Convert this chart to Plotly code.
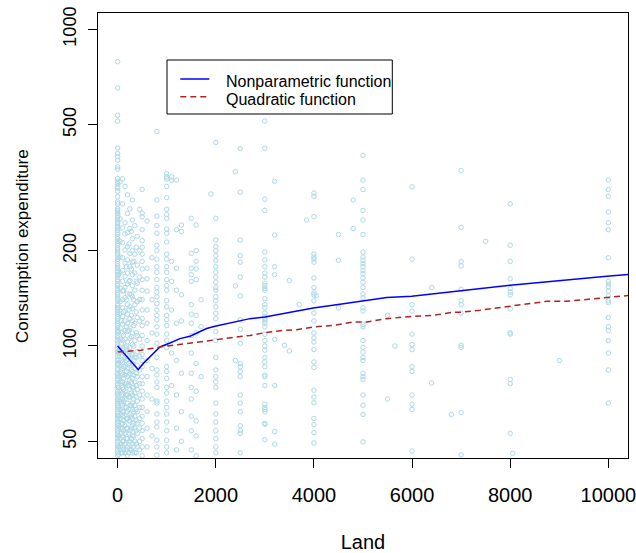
import plotly.graph_objects as go

# ---- Scatter data: consumption expenditure observed at each land level ----
land_levels = [0, 20, 50, 80, 100, 120, 150, 180, 200, 230, 250, 280, 300, 330, 350,
               380, 400, 450, 500, 600, 700, 800,
               1000, 1100, 1200, 1300, 1500, 1600, 1700, 1900, 2000, 2400, 2500,
               3000, 3200, 3400, 3500, 3700, 3850, 4000, 4050, 4500, 4800, 5000,
               5500, 5650, 6000, 6400, 6800, 7000, 7500, 8000, 8050, 9000, 10000]

cons_0 = [790, 653, 535, 513, 422, 405, 396, 386, 368, 362, 338, 331, 326, 319, 315,
          308, 296, 285, 281, 271, 268, 265, 262, 258, 254, 250, 246, 243, 239, 236,
          232, 228, 225, 221, 218, 214, 211, 208, 204, 201, 198, 195, 191, 188, 185,
          182, 179, 176, 173, 171, 168, 165, 162, 160, 157, 155, 152, 150, 147, 145,
          143, 141, 139, 136, 134, 132, 130, 128, 126, 124, 122, 120, 118, 116, 114,
          112, 110, 108, 106, 104, 102, 100, 98, 96, 95, 93, 91, 90, 88, 87, 85, 84,
          82, 81, 79, 78, 76, 75, 74, 72, 71, 70, 68, 67, 66, 65, 64, 63, 62, 61, 60,
          59, 58, 57, 56, 55, 54, 53, 52, 51, 50, 49, 48, 47, 46, 45]
cons_20 = [168, 132, 111, 95, 88, 80, 74, 69, 64, 60, 56, 52, 48, 45.5]
cons_50 = [330, 252, 214, 191, 171, 152, 138, 126, 114, 105, 97, 89, 83, 77, 72, 67,
           63, 59, 55, 51, 48]
cons_80 = [120, 102, 90, 82, 75, 70, 66, 61, 57, 53, 49, 46]
cons_100 = [337, 281, 236, 212, 190, 173, 160, 149, 140, 132, 124, 117, 110, 104, 98,
            93, 89, 85, 81, 77, 74, 71, 68, 65, 62, 60, 57, 55, 52, 50, 48, 46]
cons_120 = [150, 128, 108, 95, 86, 79, 73, 67, 62, 58, 54, 50, 47]
cons_150 = [319, 245, 226, 201, 183, 166, 153, 142, 129, 120, 112, 105, 99, 92, 86,
            81, 76, 72, 68, 64, 60, 56, 53, 49, 46]
cons_180 = [178, 140, 115, 100, 90, 83, 76, 70, 64, 59, 55, 51, 47]
cons_200 = [300, 262, 228, 206, 187, 170, 157, 146, 135, 126, 118, 111, 103, 97, 91,
            85, 80, 75, 70, 66, 62, 59, 55, 51, 48, 45]
cons_230 = [210, 160, 130, 112, 96, 88, 81, 75, 69, 63, 58, 53, 49, 46]
cons_250 = [271, 235, 196, 178, 161, 146, 133, 122, 114, 106, 99, 93, 87, 82, 78, 73,
            69, 65, 61, 58, 54, 50, 47]
cons_280 = [230, 175, 145, 125, 107, 94, 84, 77, 71, 65, 60, 55, 51, 47]
cons_300 = [289, 250, 218, 200, 184, 168, 155, 143, 131, 120, 110, 101, 94, 88, 83,
            79, 74, 70, 66, 63, 59, 56, 52, 49, 46]
cons_330 = [185, 140, 116, 100, 90, 81, 74, 68, 62, 57, 52, 48]
cons_350 = [240, 195, 170, 150, 135, 118, 104, 92, 85, 77, 71, 65, 60, 55, 50, 46]
cons_380 = [205, 160, 128, 110, 92, 82, 75, 69, 63, 58, 54, 49, 46]
cons_400 = [222, 180, 158, 138, 123, 108, 96, 87, 80, 73, 67, 62, 57, 53, 48]
cons_450 = [270, 200, 165, 140, 120, 105, 93, 84, 76, 70, 64, 59, 55, 50, 47]
cons_500 = [312, 263, 256, 233, 215, 205, 195, 185, 175, 162, 150, 140, 130, 122, 116,
            108, 100, 94, 90, 86, 80, 76, 72, 68, 64, 60, 57, 54, 51, 48, 45]
cons_600 = [248, 176, 163, 149, 130, 118, 104, 90, 80, 70, 62, 55, 48]
cons_700 = [190, 140, 110, 85, 68, 52]
cons_800 = [476, 289, 257, 240, 227, 208, 200, 188, 178, 171, 162, 153, 148, 143, 136,
            130, 125, 121, 115, 109, 102, 92, 84, 81, 77, 74, 67, 66, 61, 57.5, 55.5,
            50.4, 48, 45.2]
cons_1000 = [350, 342, 337, 319, 294, 270, 260, 253, 234, 227, 213, 195, 188, 178, 171,
             162, 155, 150, 139, 133, 125, 121, 116, 109, 104, 99, 86, 83, 79, 74, 71,
             67, 64, 61, 57.5, 54, 50.4, 48, 46]
cons_1100 = [342, 334, 185, 160, 130, 95, 75]
cons_1200 = [334, 233, 176, 150, 118, 90, 70, 55, 47]
cons_1300 = [241, 230, 145, 120, 82, 62, 50]
cons_1500 = [253, 196, 176, 168, 160, 135, 126, 118, 108, 95, 82, 74, 68, 60, 54, 47]
cons_1600 = [241, 200, 185, 175, 162, 125, 110, 88, 72, 58, 52, 45]
cons_1700 = [140, 115, 80]
cons_1900 = [302]
cons_2000 = [439, 253, 216, 206, 200, 193, 186, 178, 171, 165, 159, 153, 150, 143, 139,
             133, 127, 122, 111, 104, 92, 84, 80, 77, 74, 66, 61, 57.5, 54, 51, 48, 46]
cons_2400 = [355, 155, 90]
cons_2500 = [420, 306, 216, 193, 184, 165, 144, 121, 113, 102, 88, 86, 83, 80, 70, 66,
             62, 56, 54, 53, 46]
cons_3000 = [513, 421, 291, 268, 198, 187, 178, 170, 165, 158, 155, 152, 150, 141, 135,
             132, 127, 124, 122, 120, 118, 115, 109, 104, 100, 97, 92, 89, 86, 81, 80,
             75, 65.5, 64, 63, 62, 57, 56.6, 50.6]
cons_3200 = [331, 224, 178, 168, 105, 75, 53.7, 49]
cons_3400 = [100.5]
cons_3500 = [161, 96.4]
cons_3700 = [135]
cons_3850 = [250]
cons_4000 = [304, 297, 256, 195, 191, 188, 184, 164, 153, 147, 145, 139, 127, 120, 110,
             106, 103, 97.4, 89, 85.6, 72.5, 69, 66.2, 59, 56.5, 53.3, 49.4]
cons_4050 = [144]
cons_4500 = [225, 186.5, 132]
cons_4800 = [289, 235]
cons_5000 = [400, 334, 312, 268, 250, 225, 198, 191, 186.5, 182, 178, 173, 169, 164,
             159, 153, 146, 142, 132, 129, 117, 115, 104, 99, 95.7, 92, 90, 82, 80,
             78.4, 70, 65, 60.8, 49.8]
cons_5500 = [125, 68]
cons_5650 = [100]
cons_6000 = [318, 188, 135, 129, 109, 101, 97.4, 86, 83, 70, 65.5, 63, 46.6]
cons_6400 = [153, 76.4]
cons_6800 = [60.8]
cons_7000 = [358, 237, 185, 179, 151, 139, 135, 127, 100.5, 99, 61.6, 45.3]
cons_7500 = [214]
cons_8000 = [281, 208, 185, 163, 152, 148, 145, 131, 110, 109, 78.4, 76, 53]
cons_8050 = [45.8]
cons_9000 = [90]
cons_10000 = [334, 312, 297, 265, 245, 233, 190, 160, 157, 154, 149, 144, 139, 137, 123,
              115, 112, 104, 95, 84, 66]

cons_columns = [cons_0, cons_20, cons_50, cons_80, cons_100, cons_120, cons_150,
                cons_180, cons_200, cons_230, cons_250, cons_280, cons_300, cons_330,
                cons_350, cons_380, cons_400, cons_450, cons_500, cons_600, cons_700,
                cons_800, cons_1000, cons_1100, cons_1200, cons_1300, cons_1500,
                cons_1600, cons_1700, cons_1900, cons_2000, cons_2400, cons_2500,
                cons_3000, cons_3200, cons_3400, cons_3500, cons_3700, cons_3850,
                cons_4000, cons_4050, cons_4500, cons_4800, cons_5000, cons_5500,
                cons_5650, cons_6000, cons_6400, cons_6800, cons_7000, cons_7500,
                cons_8000, cons_8050, cons_9000, cons_10000]

# ---- Fitted curves ----
np_land = [0, 420, 522, 624, 760, 862, 1066, 1270, 1474, 1678, 1814, 1983, 2289, 2493,
           2697, 3002, 3410, 3987, 4530, 5006, 5483, 5993, 6570, 6841, 6977, 7997,
           9967, 10430]
np_cons = [100, 84.2, 88.0, 91.2, 95.7, 99.3, 102.2, 105.5, 107.3, 110.7, 113.5, 115.4,
           118.2, 120, 122, 123.5, 126.6, 131.8, 135.4, 138.4, 142.2, 143.6, 147,
           148.9, 149, 155.5, 166, 168.4]

quad_land = [0, 474, 1000, 1474, 2018, 2493, 2697, 3002, 3376, 3649, 3987, 4395, 4803,
             5075, 5483, 5993, 6433, 6841, 6977, 7385, 7997, 8744, 9152, 9967, 10430]
quad_cons = [95.7, 97, 100, 102.2, 104.7, 107.3, 108, 110.2, 112.1, 112.6, 114.8, 116.2,
             119, 119, 122, 124, 125, 127.8, 127.8, 129.7, 133.7, 138.4, 138.4, 142.2,
             144.5]

series_names = ["Nonparametric function", "Quadratic function"]
series_colors = ["#0000FF", "#B22222"]
x_title = "Land"
y_title = "Consumption expenditure"

x_ticks = [0, 2000, 4000, 6000, 8000, 10000]
x_tick_labels = ["0", "2000", "4000", "6000", "8000", "10000"]
y_ticks = [50, 100, 200, 500, 1000]
y_tick_labels = ["50", "100", "200", "500", "1000"]

# build flat scatter arrays from the columns
pts_x, pts_y = [], []
for lv, col in zip(land_levels, cons_columns):
    pts_x.extend([lv] * len(col))
    pts_y.extend(col)

FONT = "Liberation Sans, Arial, Helvetica, sans-serif"
W, H = 636, 553
ML, MR, MT, MB = 98, 8, 13, 95
PW, PH = W - ML - MR, H - MT - MB


def px_x(p):  # pixel -> paper x
    return (p - ML) / PW


def px_y(p):  # pixel -> paper y
    return (H - MB - p) / PH


fig = go.Figure()
fig.add_trace(go.Scatter(
    x=pts_x, y=pts_y, mode="markers", showlegend=False, hoverinfo="skip",
    marker=dict(symbol="circle-open", size=4.5, color="#ADD8E6",
                line=dict(width=1, color="#ADD8E6")),
))
fig.add_trace(go.Scatter(
    x=np_land, y=np_cons, mode="lines", name=series_names[0], showlegend=False,
    line=dict(color=series_colors[0], width=1.5),
))
fig.add_trace(go.Scatter(
    x=quad_land, y=quad_cons, mode="lines", name=series_names[1], showlegend=False,
    line=dict(color=series_colors[1], width=1.5, dash="6px,4px"),
))

# ---- legend box drawn in R style ----
shapes = [
    dict(type="rect", xref="paper", yref="paper",
         x0=px_x(167), x1=px_x(392.3), y0=px_y(114), y1=px_y(60),
         line=dict(color="black", width=1), fillcolor="white", layer="above"),
    dict(type="line", xref="paper", yref="paper",
         x0=px_x(180.3), x1=px_x(209.3), y0=px_y(79), y1=px_y(79),
         line=dict(color=series_colors[0], width=1.5), layer="above"),
    dict(type="line", xref="paper", yref="paper",
         x0=px_x(180.3), x1=px_x(209.3), y0=px_y(96.7), y1=px_y(96.7),
         line=dict(color=series_colors[1], width=1.5, dash="6px,4px"), layer="above"),
]
annotations = [
    dict(text=series_names[0], xref="paper", yref="paper", x=px_x(224.3), y=px_y(81.5),
         xanchor="left", yanchor="middle", showarrow=False,
         font=dict(size=16, family=FONT, color="black")),
    dict(text=series_names[1], xref="paper", yref="paper", x=px_x(224.3), y=px_y(99),
         xanchor="left", yanchor="middle", showarrow=False,
         font=dict(size=16, family=FONT, color="black")),
    # y-axis title, placed as in the R figure
    dict(text=y_title, xref="paper", yref="paper", x=px_x(22), y=px_y(246),
         xanchor="center", yanchor="middle", textangle=-90, showarrow=False,
         font=dict(size=17, family=FONT, color="black")),
]

fig.update_layout(
    width=W, height=H,
    margin=dict(l=ML, r=MR, t=MT, b=MB, autoexpand=False),
    paper_bgcolor="white", plot_bgcolor="white",
    font=dict(family=FONT, color="black"),
    showlegend=False,
    shapes=shapes, annotations=annotations,
    xaxis=dict(
        range=[-400, 10400], tickvals=x_ticks, ticktext=x_tick_labels,
        ticks="outside", ticklen=9, automargin=False, ticklabeloverflow="allow",
        tickwidth=1, tickcolor="black", showgrid=False, zeroline=False,
        showline=True, mirror=True, linecolor="black", linewidth=1,
        tickfont=dict(size=20, family=FONT), ticklabelstandoff=10,
        title=dict(text=x_title, font=dict(size=20, family=FONT), standoff=38),
    ),
    yaxis=dict(
        type="log", range=[1.6463, 3.0515], tickvals=y_ticks, ticktext=y_tick_labels,
        tickangle=-90, ticks="outside", ticklen=9, tickwidth=1, tickcolor="black",
        automargin=False, ticklabeloverflow="allow",
        showgrid=False, zeroline=False, showline=True, mirror=True,
        linecolor="black", linewidth=1,
        tickfont=dict(size=18, family=FONT), ticklabelstandoff=5,
    ),
)

fig.write_html("out.html", config={"displayModeBar": False},
               post_script="document.body.style.margin='0px';")
